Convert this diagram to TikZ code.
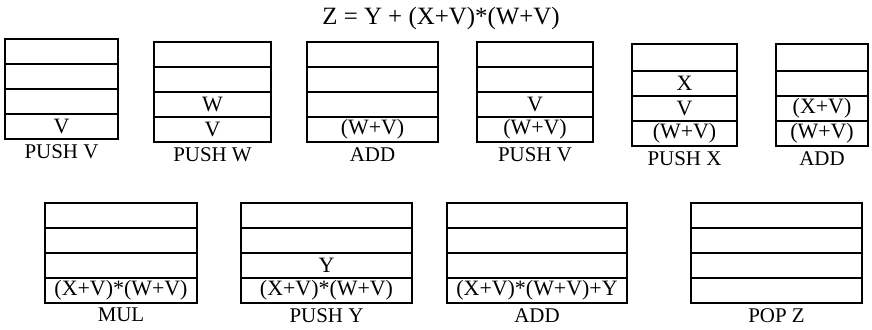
\documentclass[tikz,border=0pt]{standalone}
\usepackage{fontspec}
\setmainfont{Liberation Serif}
\usetikzlibrary{positioning}

\begin{document}
\begin{tikzpicture}[x=1bp,y=-1bp,node distance=0pt,
  cell/.style={draw,line width=2.7bp,inner sep=0pt,outer sep=0pt,minimum height=25bp,font=\fontsize{22}{24}\selectfont},
  oplabel/.style={inner sep=0pt,font=\fontsize{21}{24}\selectfont}]
\useasboundingbox (0,0) rectangle (872,329);
\node[inner sep=0pt,font=\fontsize{25}{30}\selectfont] (expr) at (441,19) {Z = Y + (X+V)*(W+V)};
% stacks: name/left/bottom/width/top cell height/cells bottom to top/operation
\foreach \n/\x/\y/\w/\h/\a/\b/\c/\d/\op in {
  pushv/5/139/113/25/V/{}/{}/{}/PUSH V,
  pushw/154/142/117/25/V/W/{}/{}/PUSH W,
  addwv/307/142/131/25/(W+V)/{}/{}/{}/ADD,
  pushvv/477/142/116/25/(W+V)/V/{}/{}/PUSH V,
  pushx/632/146/105/27/(W+V)/V/X/{}/PUSH X,
  addxv/776/146/92/27/(W+V)/(X+V)/{}/{}/ADD,
  mul/45/303/152/25/(X+V)*(W+V)/{}/{}/{}/MUL,
  pushy/241/303/171/25/(X+V)*(W+V)/Y/{}/{}/PUSH Y,
  addy/447/303/180/25/(X+V)*(W+V)+Y/{}/{}/{}/ADD,
  popz/691/303/171/25/{}/{}/{}/{}/POP Z}{
  \node[cell,minimum width=\w bp,anchor=south west] (\n-1) at (\x,\y) {\a};
  \node[cell,minimum width=\w bp,above=of \n-1] (\n-2) {\b};
  \node[cell,minimum width=\w bp,above=of \n-2] (\n-3) {\c};
  \node[cell,minimum width=\w bp,minimum height=\h bp,above=of \n-3] (\n-4) {\d};
  \node[oplabel,below=5bp of \n-1] (\n-op) {\op};
}
\end{tikzpicture}
\end{document}
